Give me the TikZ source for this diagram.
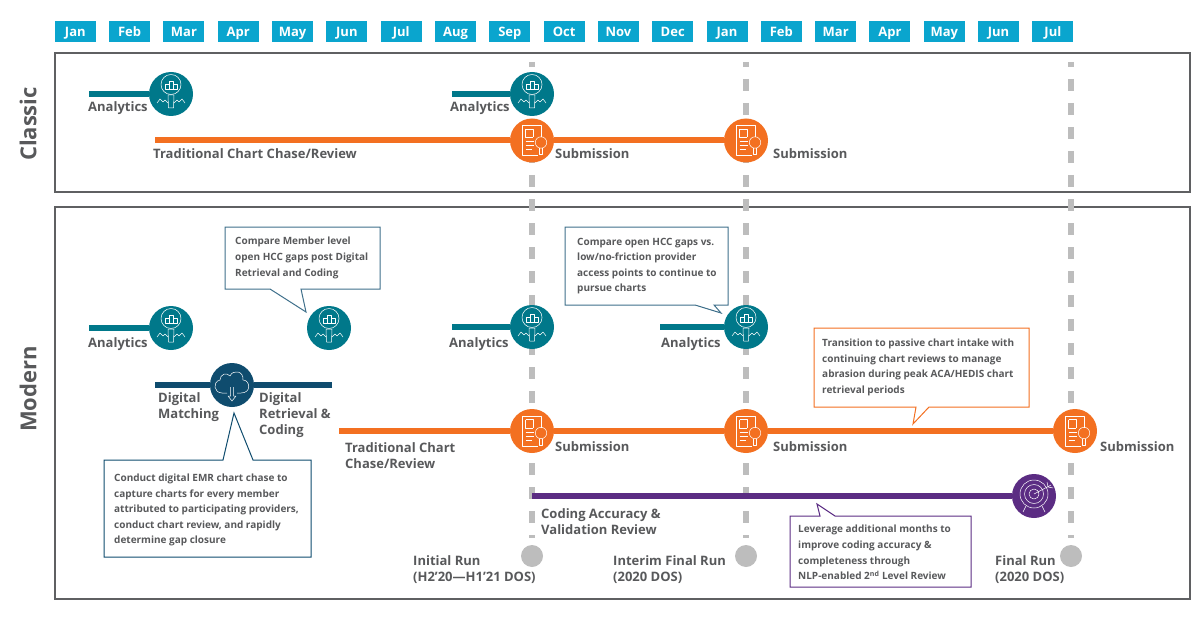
\documentclass[tikz,border=0pt]{standalone}
\usepackage{fontspec}
\setmainfont{Open Sans}
\definecolor{monthblue}{HTML}{0AA5CE}
\definecolor{tealc}{HTML}{00788A}
\definecolor{orangec}{HTML}{F37021}
\definecolor{navyc}{HTML}{0F4C6E}
\definecolor{purplec}{HTML}{5B2C83}
\definecolor{greyc}{HTML}{BDBDBD}
\definecolor{textc}{HTML}{58595B}
\definecolor{framec}{HTML}{5F6062}
\tikzstyle{month}=[fill=monthblue,text=white,minimum width=41pt,minimum height=21pt,inner sep=0pt,text height=9.5pt,text depth=0pt,font=\fontsize{13}{15}\bfseries\selectfont]
\tikzstyle{panel}=[draw=framec,line width=1.6pt]
\tikzstyle{rowname}=[rotate=90,text=textc,inner sep=0pt,font=\fontsize{22}{26}\bfseries\selectfont]
\tikzstyle{lbl}=[anchor=west,align=left,inner sep=0pt,yshift=-1.5pt,text=textc,font=\fontsize{13}{16}\bfseries\selectfont]
\tikzstyle{note}=[anchor=west,align=left,inner sep=0pt,yshift=-1pt,text=textc,font=\fontsize{10}{15.6}\bfseries\selectfont]
\tikzstyle{rundash}=[greyc,line width=6pt,dash pattern=on 12pt off 12pt,dash phase=7pt]
\tikzstyle{run}=[circle,fill=greyc,minimum size=22pt,inner sep=0pt]
\tikzstyle{hub}=[circle,minimum size=44pt,inner sep=0pt]
\tikzstyle{icon}=[draw=white,line width=0.5pt,line join=round,fill=none]
\tikzset{
  analyticsicon/.pic={
    \draw[icon] (0,-9.5) circle (10);
    \draw[icon] (-6,-5) rectangle (-2,-10) (-2,-5) rectangle (2,-13) (2,-5) rectangle (6,-10);
    \draw[icon] (-3,1) -- (3,1) -- (2.5,14) -- (-2.5,14) -- cycle;
    \draw[icon] (-14,9) -- (-11,5) -- (-8,8) -- (-6,6) -- (-3,9);
    \draw[icon] (14,9) -- (11,5) -- (8,8) -- (6,6) -- (3,9);
  },
  chasticon/.pic={
    \draw[icon] (9,-3) -- (9,-15) -- (-10,-15) -- (-10,15) -- (6,15);
    \draw[icon] (-6.5,-11.5) -- (1,-11.5) -- (1,-3) (-6.5,-11.5) -- (-6.5,-3) -- (1,-3);
    \draw[icon] (-6.5,1) -- (2,1) (-6.5,5) -- (2,5) (-6.5,9) -- (0,9);
    \draw[icon] (9,2) circle (5.7);
    \draw[icon] (7,8) -- (7,14) -- (10,14) -- (10,8);
  },
  cloudicon/.pic={
    \draw[icon] (-5,8) -- (-10,8) .. controls (-18,8) and (-20,-3) .. (-12,-5)
      .. controls (-12,-11) and (-5,-13) .. (-2,-9) .. controls (1,-16) and (12,-14) .. (11,-5)
      .. controls (18,-5) and (20,8) .. (9,8) -- (5,8);
    \draw[icon] (-1.5,2) -- (-1.5,11) -- (-4,11) -- (0,16) -- (4,11) -- (1.5,11) -- (1.5,2);
  },
  targeticon/.pic={
    \draw[icon] (0,-2) circle (14) (0,-2) circle (9.5) (0,-2) circle (5);
    \draw[icon] (0,-2) -- (17,-11) (13,-14) -- (14,-9) -- (19,-8);
    \draw[icon] (-8,10) -- (-11,16) (8,10) -- (11,16);
  }
}
\begin{document}
\begin{tikzpicture}[x=1pt,y=-1pt]
    \useasboundingbox (0,0) rectangle (1201,639);
    \foreach \name [count=\i] in {Jan,Feb,Mar,Apr,May,Jun,Jul,Aug,Sep,Oct,Nov,Dec,Jan,Feb,Mar,Apr,May,Jun,Jul}
    \node[month] (m\i) at ({75.3+54.31*(\i-1)},32) {\name};

    \draw[panel] (55,53) rectangle (1190,192);
    \draw[panel] (55,207) rectangle (1190,599);
    \node[rowname] (classic) at (28,124) {Classic};
    \node[rowname] (modern) at (28,389) {Modern};

    % run markers
    \foreach \x/\n in {532/r1,746/r2,1071/r3} {
        \coordinate (\n top) at (\x,62);
        \coordinate (\n end) at (\x,538);
        \draw[rundash] (\n top) -- (\n end);
        \node[run] (\n) at (\x,556) {};
    }

    % classic row
    \node[hub,fill=tealc] (ca1) at (171,94) {};
    \node[hub,fill=tealc] (ca2) at (532,94) {};
    \node[hub,fill=orangec] (cs1) at (532,140.5) {};
    \node[hub,fill=orangec] (cs2) at (746,140.5) {};
    \coordinate (ca1s) at (89,94);
    \coordinate (ca2s) at (452,94);
    \coordinate (cts) at (155,140.5);
    \draw[tealc,line width=6pt] (ca1s) -- (ca1);
    \draw[tealc,line width=6pt] (ca2s) -- (ca2);
    \draw[orangec,line width=6pt] (cts) -- (cs1);
    \draw[orangec,line width=6pt] (cs1) -- (cs2);

    % modern row
    \node[hub,fill=tealc] (ma1) at (171,328) {};
    \node[hub,fill=tealc] (ma2) at (329,328) {};
    \node[hub,fill=tealc] (ma3) at (532,327) {};
    \node[hub,fill=tealc] (ma4) at (746,327) {};
    \node[hub,fill=navyc] (dg) at (232,385) {};
    \node[hub,fill=orangec] (ms1) at (532,431) {};
    \node[hub,fill=orangec] (ms2) at (746,431) {};
    \node[hub,fill=orangec] (ms3) at (1075,431) {};
    \node[hub,fill=purplec] (tg) at (1034,496) {};
    \coordinate (ma1s) at (89,328);
    \coordinate (ma3s) at (452,327);
    \coordinate (ma4s) at (660,327);
    \coordinate (dgl) at (155,385);
    \coordinate (dgr) at (332,385);
    \coordinate (mts) at (339,431);
    \coordinate (cvs) at (532,496);
    \foreach \from/\to in {ma1s/ma1,ma3s/ma3,ma4s/ma4}
    \draw[tealc,line width=6pt] (\from) -- (\to);
    \foreach \from/\to in {dgl/dg,dgr/dg}
    \draw[navyc,line width=6pt] (\from) -- (\to);
    \foreach \from/\to in {mts/ms1,ms1/ms2,ms2/ms3}
    \draw[orangec,line width=6pt] (\from) -- (\to);
    \draw[purplec,line width=6pt] (cvs) -- (tg);

    % icons
    \foreach \n in {ca1,ca2,ma1,ma2,ma3,ma4}
    \pic at (\n) {analyticsicon};
    \foreach \n in {cs1,cs2,ms1,ms2,ms3}
    \pic at (\n) {chasticon};
    \pic at (dg) {cloudicon};
    \pic at (tg) {targeticon};

    % labels
    \node[lbl] (l1) at (88,107) {Analytics};
    \node[lbl] (l2) at (450,107) {Analytics};
    \node[lbl] (l3) at (153,152) {Traditional Chart Chase/Review};
    \node[lbl] (l4) at (555,152) {Submission};
    \node[lbl] (l5) at (773,152) {Submission};
    \node[lbl] (l6) at (88,343) {Analytics};
    \node[lbl] (l7) at (449,343) {Analytics};
    \node[lbl] (l8) at (661,343) {Analytics};
    \node[lbl] (l9) at (158,406) {Digital\\Matching};
    \node[lbl] (l10) at (259,413.5) {Digital\\Retrieval \&\\Coding};
    \node[lbl] (l11) at (345,454) {Traditional Chart\\Chase/Review};
    \node[lbl] (l12) at (555,445) {Submission};
    \node[lbl] (l13) at (773,445) {Submission};
    \node[lbl] (l14) at (1100,445) {Submission};
    \node[lbl] (l15) at (541,520.5) {Coding Accuracy \&\\Validation Review};
    \node[lbl] (l16) at (413,568) {Initial Run\\(H2’20—H1’21 DOS)};
    \node[lbl] (l17) at (613,568) {Interim Final Run\\(2020 DOS)};
    \node[lbl] (l18) at (995,568) {Final Run\\(2020 DOS)};

    % callouts
    \draw[navyc!80,line width=1pt,fill=white] (225,227) -- (380,227) -- (380,289) -- (301,289) -- (306,312) -- (270,289) -- (225,289) -- cycle;
    \node[note] (n1) at (235,257) {Compare Member level\\open HCC gaps post Digital\\Retrieval and Coding};
    \draw[navyc!80,line width=1pt,fill=white] (565,227) -- (728,227) -- (728,305) -- (714,305) -- (721,313) -- (695,305) -- (565,305) -- cycle;
    \node[note] (n2) at (577,265) {Compare open HCC gaps vs.\\low/no-friction provider\\access points to continue to\\pursue charts};
    \draw[orangec,line width=1pt,fill=white] (814,328) -- (1029,328) -- (1029,407) -- (929,407) -- (913,424) -- (916,407) -- (814,407) -- cycle;
    \node[note] (n3) at (822,366.5) {Transition to passive chart intake with\\continuing chart reviews to manage\\abrasion during peak ACA/HEDIS chart\\retrieval periods};
    \draw[navyc,line width=1pt,fill=white] (104,460) -- (223,460) -- (234,413) -- (253,460) -- (311,460) -- (311,557) -- (104,557) -- cycle;
    \node[note] (n4) at (114,509) {Conduct digital EMR chart chase to\\capture charts for every member\\attributed to participating providers,\\conduct chart review, and rapidly\\determine gap closure};
    \draw[purplec,line width=1pt,fill=white] (790,516) -- (820,516) -- (817,504) -- (835,516) -- (971,516) -- (971,587) -- (790,587) -- cycle;
    \node[note] (n5) at (798,551.5) {Leverage additional months to\\improve coding accuracy \&\\completeness through\\NLP-enabled 2\textsuperscript{nd} Level Review};
\end{tikzpicture}
\end{document}
